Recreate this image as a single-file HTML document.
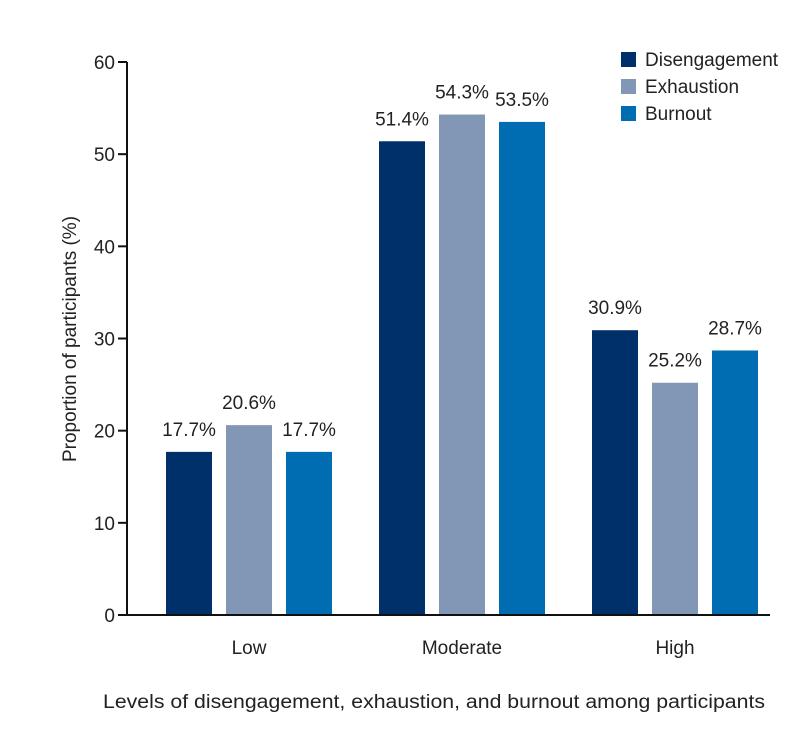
<!DOCTYPE html>
<html><head><meta charset="utf-8"><style>
html,body{margin:0;padding:0;background:#fff}
svg{display:block;font-family:"Liberation Sans",sans-serif}
</style></head><body>
<svg id="chart" width="798" height="737" viewBox="0 0 798 737">
<g id="g"></g>
</svg>
<script>
const categories = ["Low","Moderate","High"];
const seriesNames = ["Disengagement","Exhaustion","Burnout"];
const disengagement = [17.7, 51.4, 30.9];
const exhaustion = [20.6, 54.3, 25.2];
const burnout = [17.7, 53.5, 28.7];
const yTicks = [0,10,20,30,40,50,60];
const colors = ["#00306a","#8197b5","#006db2"];
const series = [disengagement, exhaustion, burnout];

const NS="http://www.w3.org/2000/svg";
const g=document.getElementById('g');
const x0=127, xEnd=770, y0=615, y60=62;
const yS=v=>y0-(v/60)*(y0-y60);
const groupCenter=i=>249+i*213;
function el(t,a,txt){const e=document.createElementNS(NS,t);for(const k in a)e.setAttribute(k,a[k]);if(txt!=null)e.textContent=txt;g.appendChild(e);return e;}

categories.forEach((c,i)=>{
  series.forEach((s,j)=>{
    const bx=groupCenter(i)-83+j*60, w=46;
    const r=el('rect',{x:bx,y:yS(s[i]),width:w,height:y0-yS(s[i]),fill:colors[j]});
    
    
    const t=el('text',{x:bx+w/2,y:yS(s[i])-16,'text-anchor':'middle','font-size':19,fill:'#222'},s[i].toFixed(1)+'%');
    
    
  });
  const cl=el('text',{x:groupCenter(i),y:654,'text-anchor':'middle','font-size':19,fill:'#222'},c);
  
  
});

const ya=el('line',{x1:x0,y1:y60,x2:x0,y2:y0+1,stroke:'#111','stroke-width':2});


const xa=el('line',{x1:x0-1,y1:y0,x2:xEnd,y2:y0,stroke:'#111','stroke-width':2});


yTicks.forEach(v=>{
  el('line',{x1:x0-9,y1:yS(v),x2:x0,y2:yS(v),stroke:'#111','stroke-width':2});
  const t=el('text',{x:x0-12,y:yS(v)+7,'text-anchor':'end','font-size':19,fill:'#222'},v);
  
  
});

const yt=el('text',{transform:'translate(76,339) rotate(-90)','text-anchor':'middle','font-size':19,fill:'#222'},'Proportion of participants (%)');


const xt=el('text',{x:434,y:708,'text-anchor':'middle','font-size':19,fill:'#222',textLength:662,lengthAdjust:'spacingAndGlyphs'},'Levels of disengagement, exhaustion, and burnout among participants');



seriesNames.forEach((n,j)=>{
  const ly=52+j*27;
  const r=el('rect',{x:621,y:ly,width:15,height:15,fill:colors[j]});
  
  
  const t=el('text',{x:645,y:ly+14,'font-size':19,fill:'#222'},n);
  
  
});
</script>
</body></html>
